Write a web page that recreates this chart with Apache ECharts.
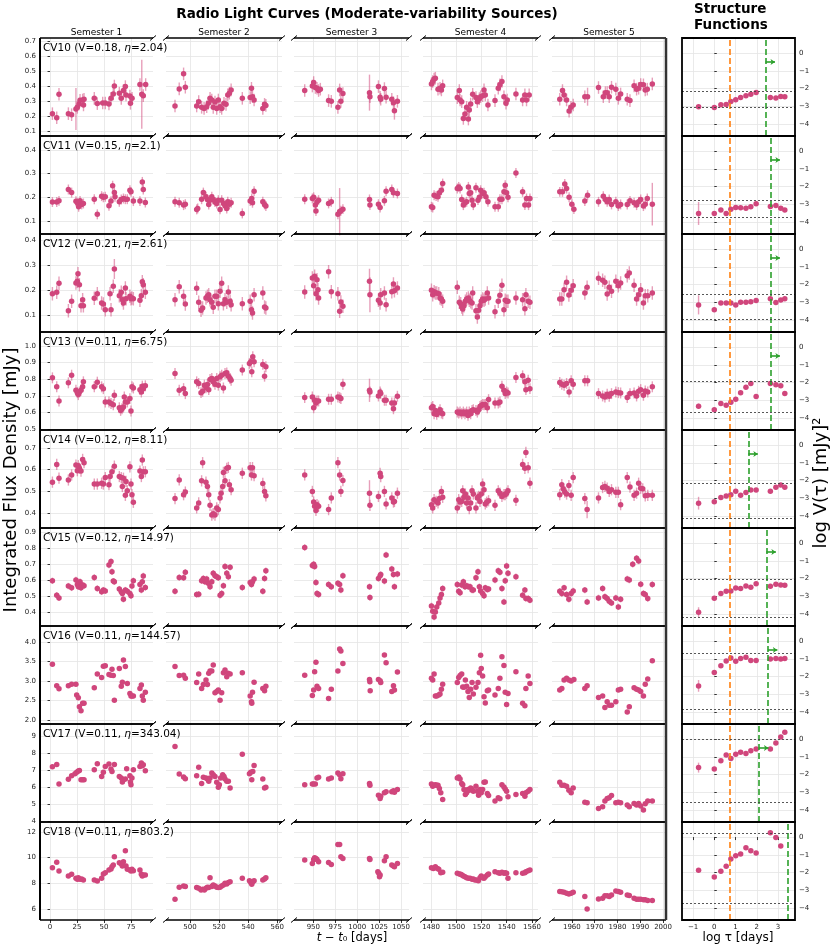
<!DOCTYPE html>
<html>
<head>
<meta charset="utf-8">
<script src="https://cdn.jsdelivr.net/npm/echarts@6/dist/echarts.min.js"></script>
<style>
  html, body { margin: 0; padding: 0; background: #fff; }
  #chart { width: 831px; height: 948px; }
</style>
</head>
<body>
<div id="chart"></div>
<script>
// ---- source info ----
const sources = ['CV10', 'CV11', 'CV12', 'CV13', 'CV14', 'CV15', 'CV16', 'CV17', 'CV18'];
const varIndex = ['0.18', '0.15', '0.21', '0.11', '0.12', '0.12', '0.11', '0.11', '0.11'];
const etaValues = ['2.04', '2.1', '2.61', '6.75', '8.11', '14.97', '144.57', '343.04', '803.2'];
const semesters = ['Semester 1', 'Semester 2', 'Semester 3', 'Semester 4', 'Semester 5'];

// ---- axis ticks ----
const semTicks = [[0, 25, 50, 75], [500, 520, 540, 560], [950, 975, 1000, 1025, 1050],
  [1480, 1500, 1520, 1540, 1560], [1960, 1970, 1980, 1990, 2000]];
const fluxTicks = [[0.1, 0.2, 0.3, 0.4, 0.5, 0.6, 0.7], [0.1, 0.2, 0.3, 0.4], [0.1, 0.2, 0.3, 0.4],
  [0.5, 0.6, 0.7, 0.8, 0.9, 1.0], [0.4, 0.5, 0.6, 0.7], [0.4, 0.5, 0.6, 0.7, 0.8, 0.9],
  [2, 2.5, 3, 3.5, 4], [4, 5, 6, 7, 8, 9], [6, 8, 10, 12]];
const tauTicks = [-1, 0, 1, 2, 3];
const sfTicks = [-4, -3, -2, -1, 0];

// ---- light curves: times [days] and flux [mJy], one list per semester ----
const cv10T = [
  [2.2,6.2,8.3,17,20,24,25.3,26.9,27.8,30.2,31,31.5,41,43.8,48.8,51.2,54.6,56.5,58.6,59.6,64.2,66,68,69.8,70.4,74,74.5,76,83.3,85,86.4,88.6],
  [489.7,492.6,495.6,496.8,504.6,506,508,509.7,511.5,512.6,513.8,515,516,517.2,518.4,519.5,520.7,521.8,523.4,524.8,526,527.1,528.3,536,541.4,542.3,543,544.1,550.1,551.3,552.2],
  [940.2,948.9,950.4,952.3,954.2,956,958,967.4,970.5,978,980,981.4,983.7,1014,1014.5,1024.2,1026.1,1026.8,1031,1032.9,1039.4,1041.3,1042.4,1045.8],
  [1480.3,1481.3,1482.4,1483.4,1485.5,1487.1,1488.2,1489.2,1500.8,1502.4,1503,1504.3,1505.6,1506.9,1508.2,1509.6,1510.3,1511.4,1513,1515.6,1516.7,1518.3,1519.3,1520.9,1522,1523,1525.1,1530.7,1533.3,1534.6,1536.2,1537.8,1539.4,1540.4,1547.3,1552.6,1554.4,1555.7,1557.8],
  [1954.7,1955.9,1956.6,1957.7,1958.8,1959.6,1960.6,1965.7,1966.9,1971.7,1973.8,1974.7,1975.5,1976.4,1977.4,1979.3,1980.4,1981.4,1984.3,1985.5,1987.3,1988.4,1989.3,1990.2,1991.4,1992.2,1993.1,1995.3]
];
const cv10V = [
  [0.216,0.189,0.345,0.216,0.209,0.247,0.258,0.28,0.305,0.307,0.274,0.312,0.318,0.283,0.287,0.287,0.28,0.318,0.347,0.4,0.352,0.318,0.37,0.396,0.34,0.334,0.285,0.318,0.41,0.345,0.336,0.41],
  [0.267,0.381,0.481,0.392,0.267,0.296,0.258,0.251,0.262,0.285,0.318,0.307,0.258,0.294,0.251,0.307,0.262,0.251,0.285,0.278,0.341,0.352,0.374,0.318,0.323,0.385,0.329,0.307,0.251,0.278,0.271],
  [0.37,0.4,0.423,0.39,0.385,0.37,0.379,0.303,0.298,0.258,0.374,0.298,0.35,0.356,0.329,0.396,0.325,0.312,0.383,0.325,0.312,0.289,0.236,0.298],
  [0.414,0.43,0.446,0.452,0.379,0.385,0.374,0.401,0.323,0.37,0.307,0.296,0.184,0.213,0.258,0.18,0.24,0.28,0.345,0.323,0.296,0.316,0.329,0.336,0.374,0.341,0.274,0.303,0.385,0.408,0.43,0.329,0.285,0.307,0.347,0.307,0.341,0.307,0.341],
  [0.312,0.37,0.341,0.307,0.233,0.258,0.274,0.329,0.329,0.39,0.329,0.356,0.356,0.329,0.392,0.379,0.318,0.347,0.312,0.303,0.401,0.379,0.385,0.41,0.408,0.374,0.379,0.414]
];
const cv11T = [
  [2.2,6.2,8.3,17,20,24,25.3,26.5,27.8,29.3,30.9,41,43.8,47.8,49.4,51.2,54.6,56.5,58,59.6,60.2,64.2,66,68,69.8,71.6,74,75,77.2,83.3,85.5,86.4,88.3],
  [489.7,492.6,495.6,496.8,504.6,505.3,508,509.2,511,512,512.9,513.8,515,516,517.2,518.4,519.5,520.7,521.8,523,524.1,525.3,526,527.1,528.3,536,541.4,542.5,543,544.1,550.1,551.3,552.2],
  [940.2,948.9,950.4,952.3,953,954.2,956,967.4,970.5,978,980,981.4,983.7,1014,1014.5,1024.2,1026.1,1031,1032.9,1039.4,1041.3,1045.8],
  [1480.3,1481.3,1482.4,1484,1485.5,1486.6,1488.2,1489.2,1500.8,1501.9,1503,1504.3,1505.6,1506.9,1508.2,1509.6,1510.3,1511.4,1512.5,1513.5,1515.6,1517.2,1518.3,1519.3,1520.9,1522,1523.5,1525.1,1530.7,1533.3,1534.6,1536.2,1537.8,1538.8,1539.9,1541,1547.3,1552.6,1554.4,1555.7,1557.3,1558.4],
  [1954.7,1955.9,1956.9,1957.7,1958.8,1960,1960.9,1965.7,1966.9,1971.7,1973.8,1974.7,1975.5,1976.4,1977.4,1979.3,1980.4,1981.4,1984.3,1985.5,1987.3,1988.4,1989.3,1990.2,1991.4,1992.2,1993.1,1995.3]
];
const cv11V = [
  [0.18,0.18,0.185,0.233,0.22,0.183,0.177,0.16,0.185,0.17,0.174,0.192,0.128,0.205,0.2,0.202,0.164,0.184,0.249,0.22,0.202,0.181,0.191,0.195,0.192,0.192,0.23,0.223,0.184,0.184,0.265,0.233,0.178],
  [0.181,0.177,0.167,0.171,0.149,0.153,0.192,0.22,0.202,0.191,0.17,0.188,0.202,0.191,0.18,0.174,0.188,0.149,0.188,0.174,0.164,0.153,0.181,0.171,0.177,0.132,0.184,0.195,0.177,0.226,0.181,0.17,0.163],
  [0.192,0.195,0.2,0.167,0.142,0.181,0.188,0.174,0.181,0.128,0.139,0.143,0.15,0.191,0.167,0.171,0.157,0.185,0.226,0.233,0.219,0.216],
  [0.16,0.157,0.209,0.205,0.202,0.219,0.23,0.258,0.237,0.244,0.237,0.191,0.167,0.177,0.181,0.244,0.216,0.219,0.188,0.167,0.24,0.188,0.2,0.23,0.216,0.219,0.202,0.181,0.16,0.16,0.192,0.192,0.223,0.251,0.219,0.2,0.303,0.223,0.167,0.195,0.167,0.195],
  [0.223,0.223,0.256,0.237,0.2,0.171,0.15,0.184,0.209,0.181,0.205,0.191,0.181,0.191,0.17,0.181,0.163,0.17,0.17,0.185,0.177,0.167,0.181,0.191,0.163,0.171,0.195,0.171]
];
const cv12T = [
  [2.2,6.2,8.3,17,20,24,25.3,25.9,27.2,28.7,30.2,30.9,41,43.8,47.8,49.4,51.2,55.6,56.5,58.6,59.6,64.2,66,67,68,69.8,70.4,74,75,75.9,77.2,83.3,84.6,85.5,86.4,88.3],
  [489.7,492.6,495.6,496.8,504.6,506,507.6,508.7,511,512,512.9,513.8,515,516,517.2,518.4,519.5,520.7,521.8,523,524.1,525.3,526.4,527.6,528.3,536,541.4,542.3,543,544.1,550.1,551.3,552.2],
  [940.2,948.9,950.4,951.5,953,954.2,955.3,956,967.4,970.5,978,980,981.4,983.7,1014,1014.5,1024.2,1026.1,1026.8,1031,1032.9,1039.4,1041.3,1042.4,1045.8],
  [1480.3,1481.3,1482.4,1483.4,1484.5,1486.1,1487.1,1488.2,1489.2,1500.8,1502.4,1503.5,1504.3,1505.1,1506.1,1507.2,1508.2,1509.6,1510.3,1511.4,1512.5,1513,1515.6,1516.7,1517.7,1518.8,1519.8,1520.9,1522,1523,1524.6,1525.6,1530.7,1533.3,1534.6,1536.2,1537.8,1538.8,1539.9,1541,1547.3,1552.6,1554.4,1555.2,1557,1558.4],
  [1954.7,1955.6,1956.6,1957.7,1958.7,1959.7,1960.6,1965.7,1966.7,1971.7,1973.5,1974.5,1975.5,1976.4,1977.4,1979.3,1980.4,1981.4,1984.3,1985.2,1987.3,1988.4,1989.3,1990.2,1991.4,1992.2,1993.3,1995.3]
];
const cv12V = [
  [0.185,0.191,0.227,0.117,0.155,0.228,0.235,0.265,0.221,0.137,0.161,0.137,0.167,0.185,0.148,0.144,0.121,0.185,0.121,0.215,0.284,0.177,0.191,0.161,0.148,0.208,0.165,0.175,0.165,0.168,0.165,0.159,0.177,0.233,0.221,0.191],
  [0.161,0.213,0.175,0.144,0.207,0.151,0.119,0.128,0.168,0.175,0.181,0.161,0.151,0.131,0.175,0.175,0.145,0.195,0.227,0.145,0.161,0.151,0.192,0.155,0.141,0.145,0.155,0.121,0.108,0.181,0.188,0.132,0.128],
  [0.192,0.248,0.217,0.255,0.185,0.241,0.201,0.168,0.273,0.193,0.185,0.115,0.152,0.135,0.235,0.181,0.159,0.148,0.181,0.188,0.141,0.193,0.224,0.197,0.208],
  [0.199,0.181,0.193,0.188,0.188,0.185,0.168,0.164,0.155,0.211,0.151,0.145,0.132,0.124,0.137,0.155,0.164,0.168,0.159,0.153,0.148,0.188,0.117,0.092,0.119,0.137,0.155,0.164,0.159,0.164,0.188,0.168,0.113,0.155,0.179,0.219,0.121,0.159,0.155,0.155,0.168,0.161,0.125,0.181,0.155,0.151],
  [0.164,0.164,0.201,0.231,0.18,0.199,0.217,0.188,0.211,0.247,0.239,0.231,0.184,0.211,0.195,0.235,0.217,0.228,0.257,0.268,0.219,0.164,0.181,0.201,0.148,0.177,0.177,0.188]
];
const cv13T = [
  [2.2,6.2,8.3,17,20,24,25.3,26.2,27.2,28.7,30.2,30.9,41,43.8,47.8,49.4,51.2,54.6,56.5,58.6,59.6,64.2,65.4,66.7,68,68.8,69.8,71.6,74,75,75.9,77.2,83.3,84.6,85.5,86.4,88.3],
  [489.7,492.6,495.6,496.8,504.6,506,507.6,508.7,509.9,511,512,512.9,513.8,515,516,517.2,518.4,519.5,520.7,521.8,523,524.1,525.3,526.4,527.6,528.3,536,540.9,541.8,542.5,543.2,544.1,550.1,551.3,552.2],
  [940.2,948.9,950.4,951.5,953,954.2,956,967.4,970.5,978,980,981.4,983.7,1014,1014.5,1024.2,1026.1,1026.8,1031,1032.9,1039.4,1041.3,1042.4,1045.8],
  [1480.3,1481.3,1482.4,1483.4,1484.5,1486.1,1487.1,1488.2,1489.2,1500.8,1501.9,1503,1504.3,1505.6,1506.9,1508.2,1509.3,1510.3,1511.4,1512.5,1513.5,1515.6,1516.7,1517.7,1518.8,1519.8,1520.9,1522,1523,1524.6,1525.6,1530.7,1533.3,1534.6,1536.2,1537.8,1538.8,1539.9,1541,1547.3,1552.6,1554.4,1555.2,1557,1558.4],
  [1954.7,1955.6,1956.6,1957.7,1958.8,1959.7,1960.6,1965.7,1966.9,1971.7,1973.5,1974.5,1975.5,1976.4,1977.4,1979.3,1980.4,1981.4,1984.3,1985.5,1987.3,1988.4,1989.3,1990.2,1991.4,1992.2,1993.3,1995.3]
];
const cv13V = [
  [0.808,0.754,0.669,0.778,0.824,0.733,0.719,0.707,0.723,0.733,0.754,0.784,0.754,0.782,0.754,0.743,0.663,0.663,0.653,0.646,0.703,0.628,0.612,0.622,0.632,0.693,0.663,0.663,0.683,0.608,0.754,0.747,0.737,0.723,0.758,0.743,0.76],
  [0.834,0.733,0.743,0.713,0.784,0.774,0.719,0.727,0.764,0.749,0.768,0.737,0.798,0.804,0.784,0.77,0.804,0.764,0.814,0.824,0.747,0.834,0.838,0.818,0.804,0.794,0.855,0.895,0.905,0.844,0.935,0.905,0.889,0.818,0.875],
  [0.689,0.693,0.628,0.673,0.657,0.669,0.669,0.679,0.679,0.693,0.689,0.683,0.77,0.733,0.723,0.699,0.723,0.713,0.673,0.673,0.657,0.622,0.657,0.697],
  [0.628,0.636,0.592,0.612,0.588,0.602,0.616,0.596,0.592,0.602,0.596,0.602,0.592,0.602,0.592,0.602,0.582,0.602,0.592,0.612,0.616,0.612,0.602,0.616,0.636,0.642,0.648,0.646,0.648,0.628,0.677,0.657,0.657,0.663,0.758,0.733,0.713,0.723,0.717,0.81,0.82,0.784,0.737,0.794,0.743],
  [0.78,0.77,0.764,0.774,0.723,0.79,0.77,0.79,0.79,0.713,0.699,0.693,0.709,0.697,0.713,0.723,0.719,0.717,0.689,0.713,0.717,0.699,0.727,0.737,0.703,0.729,0.723,0.754]
];
const cv14T = [
  [2.2,6.2,8.3,17,20,24,25.3,26.2,27.2,28.7,30.2,31.5,41,43.8,47.8,49.4,51.2,54.6,55.6,57.4,59.6,64.2,66,67,68,69.8,70.4,71.6,74,75,75.9,77.2,83.3,84.6,85.5,86.4,88.3],
  [489.7,492.6,495.6,496.8,504.6,506,508,508.7,511,512,512.9,513.8,515,516,517.2,518.4,519.5,520.7,521.4,522.5,523,524.1,525.3,526.4,527.1,528.3,536,541.4,542.3,543,544.1,550.1,551.3,552.2],
  [940.2,948.9,950.4,951.5,953,954.2,956,967.4,970.5,978,980,981.4,983.7,1014,1014.5,1024.2,1026.1,1026.8,1031,1032.9,1039.4,1041.3,1042.4,1045.8],
  [1480.3,1481.3,1482.4,1484,1485.5,1486.6,1488.2,1489.2,1500.8,1501.9,1503,1504.3,1505.1,1506.1,1507.2,1508.2,1509.3,1510.3,1511.4,1512.5,1513.5,1515.6,1516.7,1517.7,1518.8,1519.8,1520.9,1522,1523,1524.1,1525.6,1530.7,1533.3,1534.6,1536.2,1537.8,1538.8,1539.9,1541,1547.3,1552.6,1554.4,1555.2,1557,1558.4],
  [1954.7,1955.6,1956.2,1956.9,1957.7,1958.7,1959.7,1960.6,1965.7,1966.7,1971.7,1973.5,1974.5,1975.5,1976.4,1977.4,1979.3,1980.4,1981.4,1984.3,1985.5,1987.3,1988.4,1989.3,1990.2,1991.1,1992.2,1993.3,1995.3]
];
const cv14V = [
  [0.542,0.624,0.56,0.552,0.575,0.621,0.595,0.618,0.606,0.593,0.647,0.632,0.533,0.533,0.537,0.533,0.563,0.53,0.568,0.59,0.616,0.568,0.563,0.522,0.56,0.481,0.545,0.502,0.613,0.533,0.484,0.449,0.593,0.568,0.644,0.59,0.59],
  [0.466,0.552,0.484,0.496,0.423,0.446,0.548,0.632,0.542,0.522,0.484,0.435,0.39,0.396,0.39,0.423,0.415,0.469,0.491,0.522,0.587,0.548,0.606,0.61,0.53,0.507,0.583,0.609,0.575,0.609,0.572,0.536,0.499,0.479],
  [0.575,0.499,0.45,0.431,0.411,0.438,0.431,0.415,0.469,0.632,0.575,0.499,0.549,0.491,0.435,0.476,0.583,0.568,0.499,0.441,0.469,0.45,0.453,0.491],
  [0.438,0.423,0.461,0.453,0.446,0.466,0.499,0.472,0.423,0.461,0.45,0.453,0.502,0.472,0.487,0.446,0.469,0.42,0.446,0.502,0.487,0.423,0.469,0.476,0.453,0.487,0.533,0.507,0.441,0.449,0.456,0.435,0.502,0.491,0.476,0.484,0.484,0.491,0.502,0.458,0.624,0.606,0.679,0.609,0.537],
  [0.484,0.53,0.511,0.496,0.487,0.526,0.481,0.563,0.466,0.415,0.469,0.517,0.522,0.514,0.499,0.507,0.495,0.495,0.438,0.563,0.519,0.481,0.491,0.537,0.514,0.511,0.479,0.481,0.481]
];
const cv15T = [
  [2.2,6.2,8.3,17,20,24,25.3,26.2,27.8,28.7,30.2,31.5,41,43.8,47.8,49.4,51.2,54.6,56.5,57.4,58.6,59.6,64.2,66,67,68,69.8,71.6,74,75,75.9,77.2,83.3,84.6,85.5,86.4,88.3],
  [489.7,492.6,495.6,496.8,504.6,506,508,509.2,510.3,511.5,512.6,513.8,515,516,517.2,518.4,519.5,520.7,521.8,523,524.1,525.3,526.4,527.6,536,541.4,542.3,543,544.1,550.1,551.3,552.2],
  [940.2,948.9,950.4,951.5,953,954.2,956,967.4,970.5,978,980,981.4,983.7,1014,1014.5,1024.2,1026.1,1026.8,1031,1032.9,1039.4,1041.3,1042.4,1045.8],
  [1480.3,1481.3,1482.4,1483.4,1484.5,1486.1,1487.1,1488.2,1489.2,1500.8,1501.9,1503,1504.3,1505.6,1506.9,1508.2,1509.6,1510.9,1512.5,1513.5,1515.6,1517.2,1518.3,1519.3,1520.9,1522,1523,1524.6,1525.6,1530.7,1533.3,1534.6,1536.2,1537.8,1538.8,1539.9,1541,1547.3,1552.6,1554.4,1555.2,1557,1558.4],
  [1954.7,1955.6,1956.6,1957.7,1958.7,1959.7,1960.6,1965.7,1966.7,1971.7,1973.5,1974.5,1975.5,1976.4,1977.4,1979.3,1980.4,1981.4,1984.3,1985.2,1986.7,1988.4,1989.3,1990.2,1991.4,1992.2,1993.3,1995.3]
];
const cv15V = [
  [0.595,0.505,0.488,0.562,0.551,0.6,0.572,0.558,0.589,0.551,0.568,0.564,0.616,0.547,0.526,0.537,0.532,0.694,0.715,0.652,0.593,0.589,0.543,0.526,0.516,0.48,0.537,0.53,0.516,0.501,0.562,0.595,0.572,0.537,0.589,0.625,0.553],
  [0.53,0.616,0.614,0.648,0.509,0.511,0.595,0.61,0.589,0.606,0.579,0.558,0.589,0.642,0.627,0.621,0.614,0.505,0.516,0.564,0.684,0.642,0.621,0.679,0.553,0.585,0.572,0.589,0.606,0.53,0.61,0.658],
  [0.803,0.69,0.698,0.684,0.585,0.516,0.509,0.572,0.558,0.579,0.572,0.537,0.627,0.558,0.49,0.61,0.627,0.635,0.593,0.757,0.669,0.635,0.558,0.637],
  [0.438,0.404,0.368,0.4,0.432,0.457,0.488,0.509,0.547,0.572,0.53,0.52,0.568,0.589,0.558,0.564,0.558,0.558,0.537,0.537,0.614,0.652,0.558,0.532,0.516,0.501,0.551,0.541,0.543,0.6,0.658,0.648,0.547,0.463,0.595,0.688,0.642,0.621,0.505,0.537,0.484,0.484,0.474],
  [0.53,0.516,0.551,0.509,0.48,0.516,0.532,0.537,0.463,0.488,0.547,0.495,0.484,0.467,0.457,0.488,0.432,0.48,0.606,0.6,0.698,0.736,0.719,0.574,0.516,0.509,0.484,0.572]
];
const cv16T = [
  [2.2,6.2,8.3,17,20,24,24.7,26.2,27.2,28.7,30.2,31.5,41,43.8,47.8,49.4,51.2,54.6,56.5,57.4,58.6,59.6,64.2,66,67,68,69.8,71.6,74,75,75.9,77.2,83.3,84.6,85.5,86.4,88.3],
  [489.7,492.6,495.6,496.8,504.6,506,508,509.2,511,512,512.9,513.8,515,516,517.2,518.4,519.5,520.7,521.8,523,524.1,525.3,526.2,527.6,536,541.4,542.3,542.5,543,544.1,550.1,551.3,552.2],
  [940.2,948.9,950.4,951.5,953,954.2,956,967.4,970.5,978,980,981.4,983.7,1014,1014.4,1014.8,1024.2,1026.1,1026.8,1031,1032.9,1039.4,1041.3,1042.4,1045.8],
  [1480.3,1481.3,1482.4,1483.4,1484.5,1486.1,1487.1,1488.2,1489.2,1500.8,1501.9,1503,1504.3,1505.1,1506.1,1507.2,1508.2,1509.3,1510.3,1511.4,1512.5,1513.5,1515.6,1517.2,1518.3,1519.3,1519.8,1520.9,1522,1523,1524.6,1525.6,1530.7,1533.3,1534.6,1536.2,1537.8,1538.8,1539.9,1541,1547.3,1552.6,1554.4,1555.2,1557,1558.4],
  [1954.7,1955.6,1956.6,1957.7,1958.7,1959.7,1960.9,1965.7,1966.7,1971.7,1973.5,1974.5,1975.5,1976.4,1977.4,1979.3,1980.4,1981.4,1984.3,1985.2,1987.3,1988.4,1989.3,1990.2,1991.4,1992.2,1993.3,1995.3]
];
const cv16V = [
  [3.43,2.88,2.8,2.88,2.92,2.92,2.64,2.57,2.34,2.24,2.43,2.43,2.83,3.18,3.09,3.38,3.39,3.17,3.15,3.3,3.14,2.51,3.32,2.87,2.97,3.54,3.37,2.94,2.68,2.62,2.62,2.62,2.81,2.9,2.62,2.51,2.71],
  [3.37,3.14,3.15,3.07,2.96,3.18,2.81,2.91,3.03,2.91,3.2,3.26,3.26,3.41,2.7,2.73,2.77,2.51,2.7,3.21,3.28,3.11,3.2,3.18,3.21,2.62,2.47,2.43,2.71,2.97,2.81,2.75,2.87],
  [3.15,2.63,2.77,3.24,3.48,2.87,2.81,2.55,2.79,3.26,3.82,3.77,3.45,3.04,2.98,2.75,3.04,3.01,2.96,3.67,3.47,2.73,2.88,2.77,3.23],
  [3.07,3.03,3.18,2.62,2.62,2.64,2.67,2.79,2.92,2.96,3.09,3.14,3.18,2.85,2.84,3.03,2.87,2.73,2.58,2.79,2.96,2.67,2.84,2.96,3.21,3.66,3.32,3.13,2.6,2.44,2.75,2.77,2.64,2.81,3.07,3.62,3.4,2.71,2.4,2.68,3.24,2.43,2.37,2.81,3.13,2.94],
  [2.77,2.81,3.03,3.07,3.03,3.0,3.04,2.81,2.88,2.58,2.62,2.32,2.47,2.38,2.38,2.47,2.77,2.79,2.21,2.34,2.83,2.79,2.77,2.73,2.62,2.92,3.05,3.52]
];
const cv17T = [
  [2.2,6.2,8.3,17,20,23.1,24.7,26.2,27.2,28.7,30.2,31.5,41,43.8,47.8,49.4,51.2,54.6,56.5,57.4,59.6,64.2,66,67,68,69.8,71,74,74.5,75,75.9,77.2,83.3,84.6,85.5,86.4,88.3],
  [489.7,492.6,495.6,496.8,504.6,506,508,509.2,511,512,512.9,513.8,515,516,517.2,518.4,519.5,520.2,521.1,522.5,523.4,524.1,525.3,526.4,527.6,536,540.9,541.8,542.5,543.2,544.1,550.1,551.3,552.2],
  [940.2,948.9,950.4,952.3,954.2,956,967.4,970.5,978,980,981.4,983.7,1014,1014.5,1024.2,1026.1,1026.8,1031,1032.9,1039.4,1041.3,1042.4,1045.8],
  [1480.3,1481.3,1482.4,1483.4,1484.5,1485.5,1486.6,1487.7,1489.2,1500.8,1501.9,1503,1504.3,1505.1,1506.1,1507.2,1508.2,1509.3,1510.3,1511.4,1512.5,1513.5,1515.6,1516.7,1517.7,1518.8,1519.8,1520.9,1522,1523,1524.6,1525.6,1530.7,1533.3,1534.6,1536.2,1537.8,1538.8,1539.9,1541,1547.3,1552.6,1554.4,1555.2,1557,1558.4],
  [1954.7,1955.6,1956.6,1957.7,1958.7,1959.7,1960.6,1965.7,1966.7,1971.7,1973.5,1974.5,1975.5,1976.4,1977.4,1979.3,1980.4,1981.4,1984.3,1985.2,1987.3,1988.4,1989.3,1990.2,1991.4,1992.2,1993.3,1995.3]
];
const cv17V = [
  [7.2,7.34,6.2,6.47,6.68,6.8,6.88,6.95,6.99,6.45,6.45,6.45,7.03,7.38,6.64,6.88,7.22,7.36,7.07,6.93,7.34,6.64,6.55,6.32,6.45,6.49,7.09,6.68,6.32,6.16,6.55,7.03,7.22,7.42,7.26,7.32,6.97],
  [8.38,6.78,6.61,6.51,6.68,7.17,6.22,6.59,6.55,6.49,6.36,6.55,6.84,6.74,6.64,6.3,6.01,6.16,6.55,6.74,6.64,6.49,6.36,6.36,5.97,7.94,6.8,6.88,6.45,6.93,7.28,6.49,5.97,6.01],
  [6.16,6.2,6.2,6.2,6.55,6.59,6.49,6.55,6.84,6.74,6.51,6.8,6.22,6.12,5.54,5.35,5.49,5.68,5.74,5.74,5.81,5.72,5.87],
  [6.2,6.07,6.12,6.16,6.12,6.12,5.93,5.68,5.29,6.55,6.61,6.49,6.22,6.16,5.87,5.58,5.68,5.87,5.83,5.97,5.87,5.78,6.07,5.78,5.54,5.87,5.68,5.87,6.3,6.32,5.64,5.53,5.2,5.39,5.33,6.16,6.03,5.91,5.78,5.45,5.58,5.64,5.49,5.68,5.78,5.87],
  [6.3,6.12,6.12,6.07,5.83,5.68,5.97,5.14,5.1,4.77,4.87,5.2,5.35,5.39,5.53,5.1,5.14,5.1,4.97,4.87,5.06,4.97,5.06,4.91,4.68,5.04,5.2,5.2]
];
const cv18T = [
  [2.2,6.2,8.3,17,20,24,25.3,26.2,27.8,29.3,30.9,41,43.8,47.8,49.4,51.2,54.6,56.5,57.4,58.6,59.6,64.2,66,67,68,69.8,70.4,71.6,74,75,75.9,77.2,83.3,84.6,85.5,86.4,88.3],
  [489.7,492.6,495.6,496.8,504.6,506,507.6,508.7,509.9,511,512,512.9,513.8,515,516,517.2,518.4,519.5,520.7,521.8,523,524.1,525.3,526.4,527.6,536,540.9,541.8,542.5,543.2,544.1,550.1,551.3,552.2],
  [940.2,948.9,950.4,951.5,953,954.2,956,967.4,970.5,978,980,981.4,983.7,1014,1014.5,1023.5,1024.6,1025.4,1026.1,1031,1032.9,1039.4,1041.3,1042.4,1045.8],
  [1480.3,1481.8,1483.4,1485,1486.1,1487.7,1489.2,1500.8,1502.4,1503.5,1504.5,1505.6,1506.9,1508.2,1509.6,1510.9,1512.5,1513.5,1514.8,1516.1,1517.5,1518.8,1519.8,1520.9,1522,1523,1524.6,1525.6,1530.7,1533.3,1534.6,1536.2,1537.8,1538.8,1539.9,1541,1547.3,1552.6,1554.4,1555.2,1557,1558.4],
  [1954.7,1955.6,1956.6,1957.7,1958.7,1959.7,1960.6,1965.7,1966.7,1971.7,1973.5,1974.5,1975.5,1976.4,1977.4,1979.3,1980.4,1981.4,1984.3,1985.2,1987.3,1988.4,1989.3,1990.2,1991.4,1992.2,1993.3,1995.3]
];
const cv18V = [
  [9.22,9.65,8.96,8.57,8.7,8.39,8.31,8.44,8.31,8.34,8.26,8.26,8.19,8.39,8.73,8.83,9.04,9.11,9.29,9.42,10.07,9.6,9.5,9.35,9.68,10.53,9.35,9.09,9.04,8.96,9.09,8.98,9.04,8.7,8.57,8.65,8.65],
  [6.77,7.7,7.8,7.75,7.67,7.62,7.49,7.54,7.49,7.62,7.7,7.67,8.44,7.75,7.88,7.8,7.7,7.67,7.7,7.8,7.88,8.01,7.95,8.06,8.13,8.39,8.21,8.06,7.93,8.13,8.21,8.26,8.34,8.44],
  [9.81,9.55,9.86,9.99,9.94,9.86,9.68,9.63,9.47,11.02,11.02,10.07,9.94,9.94,9.86,8.91,8.78,8.52,8.65,9.76,10.07,9.42,9.35,9.29,9.55],
  [9.22,9.16,9.29,9.16,9.09,8.83,8.86,8.78,8.73,8.7,8.65,8.57,8.52,8.44,8.39,8.39,8.31,8.34,8.26,8.26,8.21,8.44,8.57,8.44,8.39,8.52,8.65,8.73,8.91,8.83,8.78,8.86,8.78,8.83,8.78,8.39,8.83,8.78,8.83,8.91,8.98,9.04],
  [7.36,7.34,7.31,7.23,7.18,7.23,7.31,6.97,6.0,6.79,6.85,7.03,7.03,6.97,7.1,7.41,7.36,7.31,7.1,7.05,6.85,6.77,6.77,6.77,6.72,6.72,6.66,6.66]
];
// typical flux error per source, plus the few larger bars [source, semester, t, err]
const fluxErr = [0.042, 0.021, 0.027, 0.033, 0.026, 0.02, 0, 0, 0];
const bigErrors = [[0,0,24,0.14],[0,0,85,0.23],[0,2,1014,0.12],[0,2,1042.4,0.06],[0,4,1966.9,0.06],
  [1,2,980,0.1],[1,4,1995.3,0.09],[2,0,59.6,0.04],[2,2,1014,0.05],[2,2,1014.5,0.07],
  [3,2,1014,0.07],[4,2,1014,0.06],[4,4,1966.7,0.04]];

// ---- structure functions ----
const sfLag = [-0.74, 0, 0.31, 0.56, 0.78, 1.01, 1.24, 1.49, 1.72, 1.97, 2.64, 2.9, 3.13, 3.32];
const sf10 = [-3.03,-3.07,-2.92,-2.9,-2.73,-2.64,-2.51,-2.41,-2.32,-2.23,-2.51,-2.53,-2.45,-2.47];
const sf11 = [-3.52,-3.53,-3.33,-3.52,-3.29,-3.18,-3.2,-3.22,-3.14,-2.98,-3.13,-3.07,-3.22,-3.33];
const sf12 = [-3.15,-3.43,-3.05,-3.04,-3.04,-3.15,-3.0,-3.0,-2.97,-2.9,-2.81,-3.02,-2.88,-2.8];
const sf13 = [-3.34,-3.54,-3.18,-3.28,-3.11,-2.94,-2.58,-2.27,-2.06,-2.79,-2.06,-2.12,-2.19,-2.62];
const sf14 = [-3.28,-3.2,-2.96,-2.87,-2.81,-2.6,-2.83,-2.68,-2.53,-2.53,-2.6,-2.38,-2.25,-2.38];
const sf15 = [-3.9,-3.11,-2.85,-2.72,-2.7,-2.53,-2.57,-2.42,-2.49,-2.29,-2.44,-2.32,-2.36,-2.38];
const sf16 = [-2.53,-1.78,-1.4,-1.12,-0.96,-1.14,-0.99,-0.92,-1.09,-1.09,-1.01,-0.99,-1.01,-0.99];
const sf17 = [-1.61,-1.69,-1.22,-0.9,-1.09,-0.86,-0.75,-0.81,-0.66,-0.56,-0.56,-0.22,0.11,0.39];
const sf18 = [-1.87,-2.25,-1.93,-1.65,-1.24,-1.05,-0.95,-0.6,-0.77,-0.9,0.25,-0.02,-0.5];
const sfFirstErr = [0.12, 0.65, 0.54, 0.15, 0.36, 0.28, 0.33, 0.28, 0.1];
const sfUpper = [-2.17, -2.79, -2.55, -1.93, -2.15, -2.04, -0.69, 0.0, 0.22];
const sfLower = [-3.07, -3.74, -3.95, -3.69, -4.12, -4.21, -3.86, -3.54, -3.73];
const greenTau = [2.41, 2.64, 2.64, 2.64, 1.6, 2.45, 2.52, 2.1, 3.46];
const orangeTau = 0.73;
const arrowLevel = -0.5;

const lcTimes = [cv10T, cv11T, cv12T, cv13T, cv14T, cv15T, cv16T, cv17T, cv18T];
const lcFlux = [cv10V, cv11V, cv12V, cv13V, cv14V, cv15V, cv16V, cv17V, cv18V];
const sfValues = [sf10, sf11, sf12, sf13, sf14, sf15, sf16, sf17, sf18];

// ---- layout ----
const FONT = 'DejaVu Sans';
const PINK = '#d0467c';
const ERR = 'rgba(212,80,130,0.55)';
const colBox = [[40, 113], [166, 116], [294, 115], [423, 115], [552, 114], [682, 113]];
const semRange = [[-9.3, 95.4], [483.5, 563.3], [928, 1059], [1473.6, 1564.8], [1951.3, 2001.3]];
const tauRange = [-1.52, 3.8];
const sfRange = [-4.68, 0.85];
const fluxRange = [[0.067, 0.72], [0.045, 0.459], [0.032, 0.424], [0.494, 1.084], [0.33, 0.783],
  [0.3125, 0.925], [1.9, 4.41], [3.98, 9.7], [5.15, 12.77]];
const TOP = 38, ROWH = 98;
const minus = v => String(v).replace('-', '\u2212');
const gridLine = { show: true, lineStyle: { color: '#e4e4e4', width: 0.8 } };

const grids = [], xAxis = [], yAxis = [], series = [];

function errRender(params, api) {
  const a = api.coord([api.value(0), api.value(1)]);
  const b = api.coord([api.value(0), api.value(2)]);
  return { type: 'line', shape: { x1: a[0], y1: a[1], x2: b[0], y2: b[1] },
    style: { stroke: ERR, lineWidth: 1.4 } };
}

for (let r = 0; r < 9; r++) {
  const top = TOP + r * ROWH;
  const bottomRow = r === 8;
  for (let c = 0; c < 6; c++) {
    const idx = r * 6 + c;
    const sf = c === 5;
    grids.push({ left: colBox[c][0], top: top, width: colBox[c][1], height: ROWH });
    const xt = sf ? tauTicks : semTicks[c];
    const xr = sf ? tauRange : semRange[c];
    xAxis.push({
      type: 'value', gridIndex: idx, min: xr[0], max: xr[1],
      axisLine: { show: false },
      axisTick: { show: bottomRow, customValues: xt, length: 3, lineStyle: { color: '#333' } },
      axisLabel: { show: bottomRow, customValues: xt, fontSize: 7, color: '#222', margin: 4,
        fontFamily: FONT, formatter: v => minus(v) },
      splitLine: gridLine
    });
    const yt = sf ? sfTicks : fluxTicks[r];
    const yr = sf ? sfRange : fluxRange[r];
    const dec = r >= 7 ? 0 : 1;
    yAxis.push({
      type: 'value', gridIndex: idx, min: yr[0], max: yr[1], position: sf ? 'right' : 'left',
      axisLine: { show: false },
      axisTick: { show: sf || c === 0, customValues: yt, length: 2.5, lineStyle: { color: '#333' } },
      axisLabel: { show: sf || c === 0, customValues: yt, fontSize: 7, color: '#222', margin: 4,
        fontFamily: FONT, formatter: v => sf ? minus(v) : Number(v).toFixed(dec) },
      splitLine: gridLine
    });

    if (!sf) {
      const ts = lcTimes[r][c], vs = lcFlux[r][c];
      const pts = ts.map((t, i) => [t, vs[i]]);
      const bars = [];
      pts.forEach(p => {
        let e = fluxErr[r];
        bigErrors.forEach(b => { if (b[0] === r && b[1] === c && b[2] === p[0]) e = b[3]; });
        if (e > 0) bars.push([p[0], p[1] - e, p[1] + e]);
      });
      if (bars.length) {
        series.push({ type: 'custom', xAxisIndex: idx, yAxisIndex: idx, renderItem: errRender,
          data: bars, encode: { x: 0, y: [1, 2] }, silent: true, z: 2 });
      }
      series.push({ type: 'scatter', xAxisIndex: idx, yAxisIndex: idx, data: pts,
        symbolSize: 5.5, itemStyle: { color: PINK, opacity: 1 }, silent: true, z: 3 });
    } else {
      const vals = sfValues[r];
      const pts = vals.map((v, i) => [sfLag[i], v]);
      series.push({ type: 'custom', xAxisIndex: idx, yAxisIndex: idx, renderItem: errRender,
        data: [[pts[0][0], pts[0][1] - sfFirstErr[r], pts[0][1] + sfFirstErr[r]]],
        encode: { x: 0, y: [1, 2] }, silent: true, z: 2 });
      series.push({
        type: 'scatter', xAxisIndex: idx, yAxisIndex: idx, data: pts,
        symbolSize: 5.5, itemStyle: { color: PINK, opacity: 1 }, silent: true, z: 3,
        markLine: {
          silent: true, symbol: ['none', 'none'], label: { show: false }, animation: false,
          data: [
            { xAxis: orangeTau, lineStyle: { color: '#ff7f0e', type: [6, 3], width: 1.6 } },
            { xAxis: greenTau[r], lineStyle: { color: '#2ca02c', type: [6, 3], width: 1.6 } },
            { yAxis: sfUpper[r], lineStyle: { color: '#444', type: [2, 2], width: 0.9 } },
            { yAxis: sfLower[r], lineStyle: { color: '#444', type: [2, 2], width: 0.9 } },
            [
              { coord: [greenTau[r], arrowLevel], symbol: 'none' },
              { coord: [greenTau[r] + 0.45, arrowLevel], symbol: 'arrow', symbolSize: 4.5,
                lineStyle: { color: '#2ca02c', type: 'solid', width: 1.6 } }
            ]
          ]
        }
      });
    }
  }
}

// ---- spines, break marks and text ----
const graphic = [];
const ln = (x1, y1, x2, y2, color, w) => graphic.push({ type: 'line', silent: true, z: 100,
  shape: { x1, y1, x2, y2 }, style: { stroke: color, lineWidth: w } });
const tx = (x, y, text, font, align) => graphic.push({
  type: 'text', x, y, silent: true, z: 100,
  style: { text, font, fill: '#000', align: align, verticalAlign: 'middle',
    textAlign: align, textVerticalAlign: 'middle' }
});

for (let r = 0; r < 9; r++) {
  const y0 = TOP + r * ROWH, y1 = y0 + ROWH;
  for (let c = 0; c < 5; c++) {
    const xl = colBox[c][0], xr = xl + colBox[c][1];
    ln(xl, y0, xr, y0, '#000', 1.6);
    ln(xl, y1, xr, y1, '#000', 1.6);
    [y0, y1].forEach(y => {
      if (c > 0) ln(xl - 3, y + 2.5, xl + 3, y - 2.5, '#000', 1);
      if (c < 4) ln(xr - 3, y + 2.5, xr + 3, y - 2.5, '#000', 1);
    });
  }
  graphic.push({ type: 'rect', silent: true, z: 100, shape: { x: 682, y: y0, width: 113, height: ROWH },
    style: { fill: 'none', stroke: '#000', lineWidth: 1.8 } });
  graphic.push({
    type: 'text', x: 43, y: y0 + 10, silent: true, z: 100,
    style: {
      text: sources[r] + ' (V=' + varIndex[r] + ', {e|η}=' + etaValues[r] + ')',
      font: '10.5px "DejaVu Sans"', fill: '#000', align: 'left', verticalAlign: 'middle',
      textAlign: 'left', textVerticalAlign: 'middle',
      rich: { e: { font: 'italic 10.5px "DejaVu Sans"', fontStyle: 'italic', fontSize: 10.5, fontFamily: FONT } }
    }
  });
}
ln(40, TOP, 40, TOP + 9 * ROWH, '#000', 2);
ln(666, TOP, 666, TOP + 9 * ROWH, '#333', 2.5);

tx(367, 14, 'Radio Light Curves (Moderate-variability Sources)', 'bold 13.5px "DejaVu Sans"', 'center');
tx(694, 9, 'Structure', 'bold 13.5px "DejaVu Sans"', 'left');
tx(694, 25, 'Functions', 'bold 13.5px "DejaVu Sans"', 'left');
semesters.forEach((s, c) => tx(colBox[c][0] + colBox[c][1] / 2, 33, s, '9px "DejaVu Sans"', 'center'));
graphic.push({
  type: 'text', x: 352, y: 938, silent: true, z: 100,
  style: { text: '{i|t} \u2212 {i|t}\u2080 [days]', font: '11.5px "DejaVu Sans"', fill: '#000',
    align: 'center', verticalAlign: 'middle', textAlign: 'center', textVerticalAlign: 'middle',
    rich: { i: { font: 'italic 11.5px "DejaVu Sans"', fontStyle: 'italic', fontSize: 11.5, fontFamily: FONT } } }
});
tx(738, 938, 'log \u03c4 [days]', '12px "DejaVu Sans"', 'center');
graphic.push({ type: 'text', x: 11, y: 480, rotation: Math.PI / 2, silent: true, z: 100,
  style: { text: 'Integrated Flux Density [mJy]', font: '18px "DejaVu Sans"', fill: '#000',
    align: 'center', verticalAlign: 'middle', textAlign: 'center', textVerticalAlign: 'middle' } });
graphic.push({ type: 'text', x: 821, y: 483, rotation: Math.PI / 2, silent: true, z: 100,
  style: { text: 'log V(\u03c4) [mJy]\u00b2', font: '18px "DejaVu Sans"', fill: '#000',
    align: 'center', verticalAlign: 'middle', textAlign: 'center', textVerticalAlign: 'middle' } });

const chart = echarts.init(document.getElementById('chart'), null, { renderer: 'canvas' });
chart.setOption({
  animation: false,
  backgroundColor: '#fff',
  textStyle: { fontFamily: FONT },
  grid: grids,
  xAxis: xAxis,
  yAxis: yAxis,
  series: series,
  graphic: graphic
});
</script>
</body>
</html>
